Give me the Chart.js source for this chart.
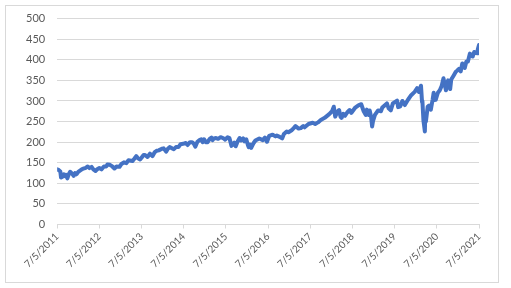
<!DOCTYPE html>
<html>
<head>
<meta charset="utf-8">
<script src="https://cdn.jsdelivr.net/npm/chart.js@4.4.0/dist/chart.umd.min.js"></script>
<style>
    body { margin: 0; background: #fff; }
    #frame { position: absolute; left: 5px; top: 5px; width: 492px; height: 276px; border: 1px solid #d9d9d9; }
    #priceChart { position: absolute; left: 0; top: 0; }
</style>
</head>
<body>
<div id="frame"></div>
<canvas id="priceChart" width="511" height="288"></canvas>
<script>
// months since 7/5/2011 (fractional)
const months = [
    0, 0.5, 0.9, 1.1, 1.5, 1.9, 2.25, 2.5, 2.9, 3.3, 3.7, 4.2, 4.7, 5.1, 5.5,
    6, 6.5, 7, 7.5, 8, 8.7, 9.2, 9.8, 10.3, 10.9, 11.4, 12, 12.6, 13.3, 14, 14.3, 15, 15.7, 16.3, 16.9, 17.75,
    18.3, 19, 19.7, 20.3, 21, 21.4, 21.9, 22.5, 23, 23.6, 24, 24.6, 25, 25.7, 26.4, 27.1, 27.7, 28.3, 28.9, 29.8,
    30.3, 31, 31.5, 32, 32.7, 33.2, 33.8, 34.5, 35.1, 35.8, 36.6, 37.1, 37.8, 38.4, 38.9, 39.3, 39.9, 40.5, 41, 41.4, 41.8,
    42.3, 42.8, 43.4, 43.9, 44.2, 44.6, 45.2, 45.8, 46.5, 47.2, 47.8, 48.5, 49, 49.6, 50, 50.4, 50.8, 51.3, 51.9, 52.3, 52.9, 53.3, 53.8,
    54.3, 54.5, 54.9, 55.2, 55.9, 56.4, 57.5, 58.5, 59.1, 59.7, 60.3, 61.3, 62.1, 62.5, 63.3, 64, 64.5, 65.3, 65.8,
    66.7, 67.3, 67.8, 68.7, 69.3, 70, 70.4, 71.5, 72.7, 73.4, 74.2, 75, 76.1, 77.4,
    78.2, 78.7, 79.1, 79.7, 80.2, 80.6, 80.9, 81.4, 81.9, 82.5, 83.2, 83.7, 84.7, 85.8, 86.5, 87.2, 87.8, 88.1, 88.6, 88.9, 89.3, 89.6, 89.85,
    90.4, 91.3, 92.1, 92.5, 93.8, 94.3, 94.9, 95.5, 96.7, 97, 97.6, 98.2, 98.9, 99.8, 100.7, 101.7,
    102.4, 102.9, 103.5, 103.8, 103.9, 104.2, 104.35, 104.6, 104.7, 104.9, 105.4, 105.8, 106.3, 106.8, 107.1, 107.2, 107.7,
    108.3, 108.85, 109.4, 109.9, 110.6, 111.2, 111.8, 112.1, 112.8, 113.4, 113.85,
    114.3, 114.8, 115.25, 115.95, 116.4, 116.85, 117.4, 118.2, 118.65, 119.45, 119.65, 119.9, 120
];

const prices = [
    134, 132, 129, 114, 116, 122, 117, 121, 112, 122, 128, 124, 118, 125, 122,
    128, 131, 134, 136, 137, 141, 137, 140, 134, 130, 134, 137, 134, 141, 141, 146, 145, 141, 136, 141, 140,
    147, 151, 149, 156, 155, 154, 159, 166, 161, 158, 162, 169, 169, 164, 172, 166, 175, 179, 180, 184,
    185, 177, 184, 188, 185, 183, 188, 188, 195, 196, 198, 193, 200, 200, 196, 189, 201, 205, 207, 200, 207,
    200, 200, 208, 211, 205, 209, 210, 208, 212, 210, 206, 212, 210, 191, 194, 199, 190, 201, 210, 204, 209, 202, 207,
    192, 188, 194, 186, 198, 204, 209, 205, 211, 201, 215, 218, 214, 216, 213, 209, 220, 226, 224,
    229, 234, 239, 233, 234, 239, 236, 244, 247, 244, 248, 254, 259, 268,
    275, 286, 262, 274, 278, 262, 259, 269, 264, 272, 278, 271, 283, 290, 292, 275, 266, 279, 266, 277, 262, 238, 251,
    266, 277, 275, 284, 294, 282, 277, 294, 301, 285, 287, 300, 290, 303, 314, 322,
    331, 322, 337, 297, 300, 252, 243, 226, 260, 250, 286, 289, 279, 303, 320, 302, 303,
    320, 326, 337, 355, 326, 350, 329, 352, 362, 371, 374,
    378, 372, 391, 380, 396, 396, 415, 408, 419, 416, 425, 433, 436
];

const tickLabels = ['7/5/2011', '7/5/2012', '7/5/2013', '7/5/2014', '7/5/2015',
    '7/5/2016', '7/5/2017', '7/5/2018', '7/5/2019', '7/5/2020', '7/5/2021'];

const points = months.map((m, i) => ({ x: m, y: prices[i] }));

const ctx = document.getElementById('priceChart').getContext('2d');
new Chart(ctx, {
    type: 'line',
    data: {
        datasets: [{
            data: points,
            borderColor: '#4472C4',
            borderWidth: 4,
            borderJoinStyle: 'round',
            borderCapStyle: 'round',
            pointRadius: 0,
            tension: 0,
            fill: false
        }]
    },
    options: {
        responsive: false,
        animation: false,
        layout: { padding: { top: 15, right: 32, left: 14, bottom: 16 } },
        plugins: { legend: { display: false }, tooltip: { enabled: false } },
        scales: {
            x: {
                type: 'linear',
                min: 0,
                max: 120,
                afterBuildTicks: axis => {
                    axis.ticks = tickLabels.map((t, i) => ({ value: i * 12 }));
                },
                ticks: {
                    callback: (v, i) => tickLabels[i],
                    autoSkip: false,
                    maxRotation: 45,
                    minRotation: 45,
                    color: '#595959',
                    font: { family: 'Lato', size: 10 },
                    padding: 2
                },
                grid: { drawOnChartArea: false, drawTicks: true, tickLength: 4, color: '#d9d9d9' },
                border: { display: true, color: '#d9d9d9' }
            },
            y: {
                min: 0,
                max: 500,
                ticks: {
                    stepSize: 50,
                    color: '#595959',
                    font: { family: 'Lato', size: 11 },
                    padding: 12
                },
                grid: { color: '#d9d9d9', drawTicks: false },
                border: { display: false }
            }
        }
    }
});
</script>
</body>
</html>
